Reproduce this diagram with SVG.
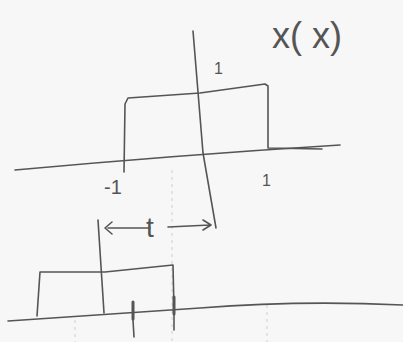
<svg xmlns="http://www.w3.org/2000/svg" width="403" height="342" viewBox="0 0 403 342">
<style>
.p{fill:none;stroke:#555;stroke-width:1.6;stroke-linecap:round;stroke-linejoin:round}
.f{fill:none;stroke:#cfcfcf;stroke-width:1;stroke-dasharray:3 4}
.t{font-family:"Liberation Sans",Arial,sans-serif;fill:#555}
</style>
<rect width="403" height="342" fill="#f7f7f7"/>
<g id="guides">
<path class="f" d="M172 170 L172 342"/>
<path class="f" d="M267 305 L267 342"/>
<path class="f" d="M75 320 L75 342"/>
</g>
<g id="axes">
<path class="p" d="M15 170 Q180 155 340 145"/>
<path class="p" d="M193 31 L203 153 L216 228"/>
<path class="p" d="M8 321 Q100 315 200 308 Q300 300 403 305"/>
<path class="p" d="M98 220 L104 313"/>
</g>
<g id="rect-top">
<path class="p" d="M124 172 L125 104 L128 98 L200 93 L265 84 L268 86 L268 148 L322 149"/>
</g>
<g id="rect-bottom">
<path class="p" d="M37 316 L40 272 L105 272 L173 265 L174 310"/>
</g>
<g id="ticks">
<path class="p" d="M133 320 L134 337"/>
<path class="p" d="M133 302 L133 319" style="stroke-width:3"/>
<path class="p" d="M174 313 L174 330"/>
<path class="p" d="M174 297 L174 314" style="stroke-width:3"/>
</g>
<g id="connectors">
<path class="p" d="M108 228 L150 228 M112 222 L105 228 L112 234"/>
<path class="p" d="M168 227 L210 225 M203 220 L211 225 L203 230"/>
</g>
<g id="labels">
<text class="t" x="146" y="237" font-size="28">t</text>
<text class="t" x="104" y="194" font-size="20">-1</text>
<text class="t" x="214" y="74" font-size="16">1</text>
<text class="t" x="262" y="186" font-size="16">1</text>
<text class="t" x="272" y="48" font-size="36">x( x)</text>
</g>
</svg>
